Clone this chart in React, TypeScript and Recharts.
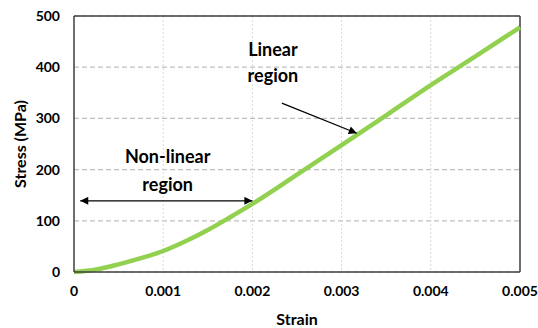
import {
  CartesianGrid, Line, LineChart, ReferenceDot, ReferenceLine, XAxis, YAxis,
} from "recharts";

const strain = [0, 0.00025, 0.0005, 0.00075, 0.001, 0.00125, 0.0015, 0.00175, 0.002, 0.0025, 0.003, 0.0035, 0.004, 0.0045, 0.005];
const stress = [0, 5, 15, 27, 41, 60, 82, 107, 133, 190, 248, 306, 365, 421, 478];
const xTicks = [0, 0.001, 0.002, 0.003, 0.004, 0.005];
const yTicks = [0, 100, 200, 300, 400, 500];

const font = "Lato, 'Open Sans', sans-serif";
const tickStyle = { fontSize: 14, fontWeight: 700, fill: "#000", fontFamily: font };
const titleStyle = { ...tickStyle, fontSize: 16 };

const rows = strain.map((s, i) => ({ strain: s, stress: stress[i] }));

const note = (text: string) => ({
  value: text, position: "center" as const,
  fontSize: 18, fontWeight: 700, fill: "#000", fontFamily: font,
});

export default function App() {
  return (
    <div style={{ position: "absolute", left: 0, top: 0 }}>
      <LineChart width={538} height={328} data={rows} margin={{ top: 16, right: 18, bottom: 0, left: 0 }}>
        <defs>
          <marker id="head" viewBox="0 0 10 10" refX="10" refY="5" markerWidth="10" markerHeight="8"
                  markerUnits="userSpaceOnUse" orient="auto-start-reverse">
            <path d="M0,0 L10,5 L0,10 z" fill="#000" />
          </marker>
        </defs>
        <CartesianGrid vertical={false} stroke="#bfbfbf" strokeDasharray="5 3" strokeWidth={1.2} />
        <CartesianGrid horizontal={false} stroke="#d9d9d9" strokeDasharray="2 2" />
        <XAxis dataKey="strain" type="number" domain={[0, 0.005]} ticks={xTicks} height={56}
               tickFormatter={(v: number) => (v === 0 ? "0" : v.toFixed(3))}
               tickLine={false} tickSize={0} tickMargin={14} interval={0}
               axisLine={{ stroke: "#404040", strokeWidth: 1.5 }} tick={tickStyle}
               label={{ value: "Strain", position: "insideBottom", offset: 3, ...titleStyle }} />
        <YAxis type="number" domain={[0, 500]} ticks={yTicks} width={74}
               tickLine={false} tickSize={0} tickMargin={14} interval={0}
               axisLine={{ stroke: "#404040", strokeWidth: 1.5 }} tick={tickStyle}
               label={{ value: "Stress (MPa)", angle: -90, position: "insideLeft", offset: 20,
                        ...titleStyle, textAnchor: "middle" }} />
        <ReferenceLine x={0.005} stroke="#404040" strokeWidth={1.5} />
        <ReferenceLine y={500} stroke="#404040" strokeWidth={1.5} />
        <Line type="monotone" dataKey="stress" stroke="#92d050" strokeWidth={4.5} dot={false}
              isAnimationActive={false} />
        <ReferenceLine segment={[{ x: 0.00007, y: 139 }, { x: 0.002, y: 139 }]} stroke="#000"
                       strokeWidth={1.3} markerStart="url(#head)" markerEnd="url(#head)" />
        <ReferenceLine segment={[{ x: 0.00233, y: 330 }, { x: 0.00317, y: 271 }]} stroke="#000"
                       strokeWidth={1.3} markerEnd="url(#head)" />
        <ReferenceDot x={0.00223} y={434} r={0} fill="none" stroke="none" label={note("Linear")} />
        <ReferenceDot x={0.00223} y={383} r={0} fill="none" stroke="none" label={note("region")} />
        <ReferenceDot x={0.00105} y={225} r={0} fill="none" stroke="none" label={note("Non-linear")} />
        <ReferenceDot x={0.00105} y={170} r={0} fill="none" stroke="none" label={note("region")} />
      </LineChart>
    </div>
  );
}
